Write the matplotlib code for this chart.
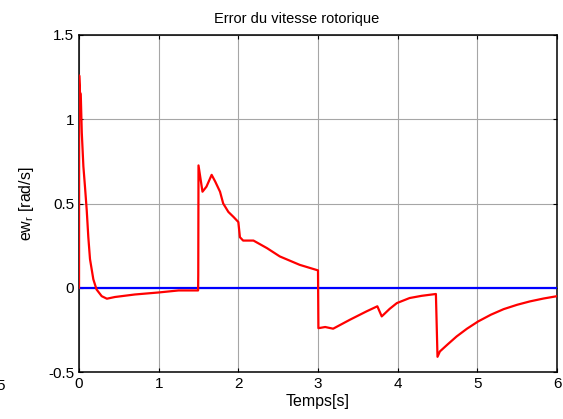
import matplotlib
matplotlib.use("Agg")
import matplotlib.pyplot as plt
import numpy as np

# ---- data --------------------------------------------------------------
t_err = [0.0, 0.002, 0.012, 0.022, 0.035, 0.055, 0.075, 0.097, 0.117,
         0.138, 0.18, 0.22, 0.285, 0.35, 0.45, 0.70, 1.0, 1.25, 1.495,
         1.497, 1.50, 1.55, 1.60, 1.665, 1.71, 1.77, 1.81, 1.875, 1.94,
         2.0, 2.02, 2.06, 2.19, 2.36, 2.52, 2.77, 3.0, 3.005, 3.09, 3.19,
         3.40, 3.61, 3.745, 3.80, 3.90, 3.99, 4.15, 4.30, 4.48, 4.50,
         4.53, 4.63, 4.74, 4.87, 5.01, 5.17, 5.33, 5.50, 5.66, 5.83, 6.0]
ew_r = [0.0, 1.26, 1.16, 1.15, 0.92, 0.72, 0.60, 0.46, 0.30,
        0.17, 0.05, -0.01, -0.05, -0.065, -0.055, -0.04, -0.028, -0.016, -0.016,
        0.077, 0.726, 0.57, 0.60, 0.67, 0.63, 0.57, 0.50, 0.45, 0.42,
        0.39, 0.30, 0.28, 0.28, 0.235, 0.186, 0.136, 0.103, -0.24, -0.233, -0.243,
        -0.19, -0.14, -0.11, -0.17, -0.125, -0.091, -0.061, -0.048, -0.037, -0.41,
        -0.378, -0.335, -0.289, -0.243, -0.20, -0.16, -0.127, -0.101, -0.081, -0.064, -0.05]

t_ref = [0.0, 6.0]
ref = [0.0, 0.0]

x_ticks = [0, 1, 2, 3, 4, 5, 6]
y_ticks = [-0.5, 0, 0.5, 1, 1.5]
y_tick_labels = ["-0.5", "0", "0.5", "1", "1.5"]

# ---- style -------------------------------------------------------------
plt.rcParams["font.family"] = ["Liberation Sans", "DejaVu Sans"]
plt.rcParams["mathtext.fontset"] = "custom"
plt.rcParams["mathtext.rm"] = "Liberation Sans"
plt.rcParams["mathtext.it"] = "Liberation Sans"

W, H = 563, 419
fig = plt.figure(figsize=(W / 100, H / 100), dpi=100)
fig.patch.set_facecolor("white")

ax_l, ax_r, ax_t, ax_b = 79, 557, 35, 372
ax = fig.add_axes([ax_l / W, 1 - ax_b / H, (ax_r - ax_l) / W, (ax_b - ax_t) / H])

ax.plot(t_ref, ref, color="#0000ff", lw=1.6, zorder=3)
ax.plot(t_err, ew_r, color="#ff0000", lw=1.6, zorder=4)

ax.set_xlim(0, 6)
ax.set_ylim(-0.5, 1.5)
ax.set_xticks(x_ticks)
ax.set_yticks(y_ticks)
ax.set_yticklabels(y_tick_labels)
ax.grid(True, color="#a6a6a6", lw=0.8)
ax.set_axisbelow(True)
ax.tick_params(direction="in", length=3, width=0.8, top=True, right=True,
               labelsize=11, pad=3.5, colors="black")
for s in ax.spines.values():
    s.set_linewidth(1.1)
    s.set_color("black")

ax.set_xlabel("Temps[s]", fontsize=11.5, labelpad=2)
ax.set_ylabel("ew$_\\mathregular{r}$ [rad/s]", fontsize=11.5, labelpad=9)
fig.text(297 / W, 1 - 19 / H, "Error du vitesse rotorique", ha="center",
         va="center", fontsize=10.5)

# clipped label fragment at the left edge
fig.text(5 / W, 1 - 386 / H, "5", ha="right", va="center", fontsize=11)

fig.savefig("out.png", dpi=100, facecolor="white")
